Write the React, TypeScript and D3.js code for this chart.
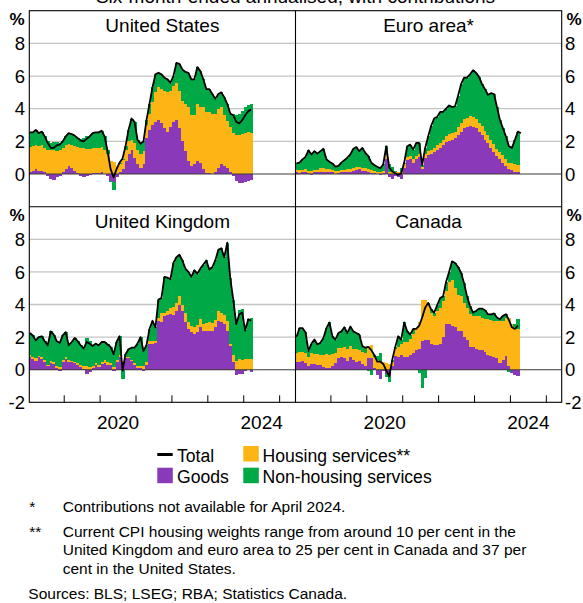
import React from 'react';
import * as d3 from 'd3';

const W = 583;
const H = 603;
const FONT = '"Liberation Sans", Arial, Helvetica, sans-serif';

// Monthly data from January 2018 (index 0) to March 2024 (index 74); euro area total to April 2024.
const usGoods = [.15,.2,.3,.2,.2,.1,-.1,-.3,-.35,-.2,-.1,.1, .3,.5,.4,.2,.05,-.1,-.2,-.15,-.05,.05,.05,.05, .1,0,-.1,-.4,-.5,-.2,.1,.3,.8,1.25,1.5,1.0, .6,.4,.6,2.2,2.7,3.0,3.2,3.3,3.1,2.8,2.6,2.9, 3.2,3.3,2.8,2.0,1.4,.8,.5,.6,.8,.7,.3,.05, .05,0,.1,.4,.6,.5,.35,.1,-.1,-.4,-.55,-.55, -.5,-.4,-.35];
const usHousing = [1.5,1.5,1.45,1.5,1.55,1.5,1.5,1.45,1.45,1.4,1.5,1.5, 1.45,1.35,1.4,1.5,1.6,1.6,1.6,1.55,1.55,1.55,1.55,1.55, 1.55,1.45,1.2,.8,.75,.5,.5,.55,.7,.8,.6,.9, .9,.8,.8,.8,1.0,1.4,1.8,2.0,2.1,2.3,2.4,2.2, 2.2,2.3,2.3,2.5,2.9,3.3,3.1,3.0,3.5,3.4,3.8,3.75, 3.75,3.7,3.6,3.6,3.5,3.1,2.9,2.8,2.5,2.4,2.4,2.45, 2.5,2.55,2.5];
const usNonHousing = [.9,.85,.95,.8,.85,.7,.5,.45,.5,.55,.4,.4, .55,.65,.65,.65,.55,.55,.6,.75,.8,.9,.95,.95, 1.0,.85,.3,-.1,-.45,0,.1,.1,.2,.65,1.3,1.3, .6,.65,.6,.3,.6,.9,1.1,.9,.9,.8,.8,.5, .6,1.2,1.65,1.9,1.95,2.1,2.2,2.2,2.25,2.2,1.7,1.4, 1.4,1.2,.9,.9,.9,1.1,1.05,.8,1.2,1.2,1.25,1.4, 1.6,1.7,1.8];
const usTotal = [2.55,2.55,2.7,2.5,2.6,2.3,1.9,1.6,1.6,1.75,1.8,2.0, 2.3,2.5,2.45,2.35,2.2,2.05,2.0,2.15,2.3,2.5,2.55,2.55, 2.65,2.3,1.4,.3,-.2,.3,.7,.95,1.7,2.7,3.4,3.2, 2.1,1.85,2.0,3.3,4.3,5.3,6.1,6.2,6.1,5.9,5.8,5.6, 6.0,6.8,6.75,6.4,6.25,6.2,5.8,5.8,6.55,6.3,5.8,5.2, 5.2,4.9,4.6,4.9,5.0,4.7,4.3,3.7,3.6,3.2,3.1,3.3, 3.6,3.85,3.95];

const euGoods = [.1,.05,.1,.1,.05,-.05,.1,.1,.15,.15,.15,.1, .1,0,.05,.1,.1,.1,.15,.2,.25,.3,.2,.2, .1,.05,.05,0,-.05,.05,.95,-.2,-.3,-.15,-.2,-.3, .4,.85,.9,.7,.9,1.05,.3,1.0,1.15,1.25,1.35,1.45, 1.6,1.8,1.95,2.05,2.1,2.2,2.4,2.6,2.8,2.9,2.95,2.9, 2.8,2.6,2.4,2.1,1.9,1.6,1.35,1.1,.9,.7,.5,.3, .25,.15,.1];
const euHousing = [.15,.2,.15,.2,.15,.2,.15,.15,.2,.2,.15,.2, .15,.2,.15,.15,.15,.2,.15,.2,.2,.15,.2,.2, .2,.2,.15,.15,.15,.15,.2,.15,.2,.15,.15,.15, .2,.2,.2,.2,.2,.2,.15,.2,.25,.25,.25,.3, .3,.3,.35,.4,.4,.4,.45,.5,.55,.55,.6,.6, .6,.55,.55,.55,.5,.5,.5,.45,.45,.45,.4,.4, .4,.45,.45];
const euNonHousing = [.4,.45,.65,.75,1.25,1.05,1.15,1.0,1.05,1.2,.6,.45, .4,.25,.3,.45,.6,.7,.9,1.15,1.2,.95,1.2,.9, .8,.45,.35,.3,.25,.4,.55,.45,.25,.05,0,.2, .1,.65,.7,.6,.8,.65,.1,.4,.9,1.45,1.8,1.75, 1.9,1.7,1.7,1.75,1.6,1.55,1.95,2.4,2.55,2.45,2.55,2.85, 2.8,2.8,2.55,2.55,2.45,2.85,3.05,2.55,1.95,1.65,1.4,1.0, .95,1.5,2.05];
const euTotal = [.65,.7,.9,1.05,1.45,1.2,1.4,1.25,1.4,1.55,.9,.75, .65,.45,.5,.7,.85,1.0,1.2,1.55,1.65,1.4,1.6,1.3, 1.1,.7,.55,.45,.35,.6,1.7,.4,.15,.05,-.05,.05, .7,1.7,1.8,1.5,1.9,1.9,.55,1.6,2.3,2.95,3.4,3.5, 3.8,3.8,4.0,4.2,4.1,4.15,4.8,5.5,5.9,5.9,6.1,6.35, 6.2,5.95,5.5,5.2,4.85,4.95,4.9,4.1,3.3,2.8,2.3,1.7, 1.6,2.1,2.6,2.5];

const ukGoods = [.75,.65,.55,.75,.65,.45,.2,.4,.35,.1,-.05,.5, .65,.5,.45,.4,.3,.15,.05,-.25,-.15,.1,.3,.15, .35,.4,.3,.3,-.1,.5,.8,.45,.7,.7,.55,.3, .1,.1,-.1,.3,1.6,1.6,1.65,3.0,2.9,3.3,3.35,3.4, 3.35,3.6,4.0,3.6,2.95,2.5,2.3,2.2,2.3,2.6,2.35,2.4, 2.4,2.4,2.6,3.0,2.9,2.8,2.4,1.45,.5,-.3,-.25,-.25, -.05,0,-.15];
const ukHousing = [.15,.15,.15,.1,.15,.15,.1,.15,.1,.15,.15,.1, .1,.1,.1,.1,.1,.15,.15,.2,.15,.15,.1,.15, .15,.2,.15,.1,.15,.1,.1,.1,.1,.1,.05,.1, .1,.15,.2,.2,.15,.15,.1,.15,.6,.2,.25,.4, .5,.5,.55,.35,.5,.4,.4,.4,.45,.5,.45,.45, .55,.45,.45,.6,.55,.55,.6,.1,.4,.55,.65,.6, .65,.65,.65];
const ukNonHousing = [1.35,1.3,1.1,1.15,1.25,1.15,1.2,1.8,1.7,1.5,1.55,1.5, 1.55,.9,1.15,1.45,1.35,1.2,1.1,1.75,1.6,1.2,1.2,1.2, 1.2,1.1,1.1,1.0,.9,1.1,1.15,-.6,.15,.45,.75,.95, 1.4,1.75,1.05,1.0,.75,1.25,.85,1.15,.9,2.2,2.05,1.75, 2.7,2.8,2.5,2.75,2.75,3.1,3.0,3.5,3.15,3.1,3.65,3.85, 3.2,3.45,3.65,3.75,4.0,3.55,4.8,4.05,3.4,2.55,3.0,3.15, 1.8,2.45,2.5];
const ukTotal = [2.25,2.1,1.8,2.0,2.05,1.75,1.5,2.35,2.15,1.75,1.65,2.1, 2.3,1.5,1.7,1.95,1.75,1.5,1.3,1.7,1.6,1.45,1.6,1.5, 1.7,1.7,1.55,1.4,.95,1.7,2.05,-.05,.95,1.25,1.35,1.35, 1.6,2.0,1.15,1.5,2.5,3.0,2.6,4.3,4.4,5.7,5.65,5.55, 6.55,6.9,7.05,6.7,6.2,6.0,5.7,6.1,5.9,6.2,6.45,6.7, 6.15,6.3,6.7,7.35,7.45,6.9,7.8,5.6,4.3,2.8,3.4,3.5, 2.4,3.1,3.0];

const caGoods = [.45,.5,.55,.4,.2,.35,.35,.3,.3,.15,.1,.1, .2,.4,.7,.75,.7,.55,.75,.6,.5,.55,.35,.2, .7,.7,.1,-.35,-.55,-.1,-.25,-.4,.2,.85,.8,.9, .8,.75,.9,1.0,1.2,1.3,1.75,1.8,1.8,1.6,1.5,1.5, 1.6,2.0,2.8,2.8,2.7,2.6,2.4,2.4,2.0,1.8,1.4,1.4, 1.3,1.2,1.2,1.1,.9,.85,.8,.7,.4,.6,.85,.2, -.2,-.3,-.4];
const caHousing = [.6,.6,.55,.6,.6,.65,.6,.65,.6,.75,.85,.8, .75,.65,.65,.6,.7,.7,.7,.7,.75,.65,.75,.8, .75,.8,.7,.6,.55,.45,.4,.35,.3,.4,.6,.7, .9,.95,1.0,1.2,1.3,1.6,2.55,2.5,2.2,1.9,1.8,2.1, 2.2,2.2,2.0,2.6,2.8,2.4,2.2,2.1,2.1,2.0,2.0,1.9, 2.0,2.1,2.0,2.0,2.2,2.2,2.2,2.3,2.6,2.4,2.3,3.0, 2.8,2.6,2.5];
const caNonHousing = [.95,1.45,1.45,1.3,.35,.6,.9,.6,.75,1.05,1.6,2.0, 1.1,.8,.9,1.0,1.2,1.0,1.2,1.05,1.0,.95,.35,.35, -.05,-.3,.1,.25,.5,0,-.2,-.35,.1,.15,.65,.25, 1.2,.65,.25,.3,0,-.2,-1.1,-.5,.1,.2,.2,.35, .6,.3,.6,.6,1.15,1.55,1.7,1.45,1.2,.7,.5,.2, .3,.45,.55,.55,.3,.35,.45,.2,.1,.3,.25,-.15, 0,.2,.6];
const caTotal = [2.0,2.55,2.55,2.3,1.15,1.6,1.85,1.55,1.65,1.95,2.55,2.9, 2.05,1.85,2.25,2.35,2.6,2.25,2.65,2.35,2.25,2.15,1.45,1.35, 1.4,1.2,.9,.5,.5,.35,-.05,-.4,.6,1.4,2.05,1.85, 2.9,2.35,2.15,2.5,2.5,2.7,3.2,3.8,4.1,3.7,3.5,3.95, 4.4,4.5,5.4,6.0,6.65,6.55,6.3,5.95,5.3,4.5,3.9,3.5, 3.6,3.75,3.75,3.65,3.4,3.4,3.45,3.2,3.1,3.3,3.4,3.05, 2.6,2.5,2.7];

const keys = ['goods', 'housing', 'nonHousing'] as const;
const seriesNames = ['Goods', 'Housing services**', 'Non-housing services'];
const colors: Record<string, string> = { goods: '#8a3ab9', housing: '#fdb515', nonHousing: '#00a846' };

const topTicks = [0, 2, 4, 6, 8];
const bottomTicks = [-2, 0, 2, 4, 6, 8];
const gridValues = [2, 4, 6, 8];
const yearTicks = [2019, 2020, 2021, 2022, 2023, 2024, 2025];
const yearLabels = [2020, 2024];

const panels = [
  { title: 'United States', col: 0, row: 0, goods: usGoods, housing: usHousing, nonHousing: usNonHousing, total: usTotal },
  { title: 'Euro area*', col: 1, row: 0, goods: euGoods, housing: euHousing, nonHousing: euNonHousing, total: euTotal },
  { title: 'United Kingdom', col: 0, row: 1, goods: ukGoods, housing: ukHousing, nonHousing: ukNonHousing, total: ukTotal },
  { title: 'Canada', col: 1, row: 1, goods: caGoods, housing: caHousing, nonHousing: caNonHousing, total: caTotal },
];

const LEFT = 29.3, MID = 295.5, RIGHT = 561.7;
const TOP = 10.7, DIV = 206.7, BOTTOM = 402.3;
const cols = [
  { r0: 28.3, r1: 295.8, clipL: LEFT, clipR: MID },
  { r0: 295, r1: 562.5, clipL: MID, clipR: RIGHT },
];
const rows = [
  { top: TOP, bottom: DIV },
  { top: DIV, bottom: BOTTOM },
];
const DOMAIN_END = 2025.45;

function xScaleFor(col: number) {
  return d3.scaleLinear().domain([2018, DOMAIN_END]).range([cols[col].r0, cols[col].r1]);
}
function yScaleFor(row: number) {
  return d3.scaleLinear().domain([-2, 10]).range([rows[row].bottom, rows[row].top]);
}
const dateOf = (i: number) => 2018 + i / 12;

function Panel({ p, idx }: { p: any; idx: number }) {
  const x = xScaleFor(p.col);
  const y = yScaleFor(p.row);
  const c = cols[p.col];
  const r = rows[p.row];
  const n = p.goods.length;
  const table = d3.range(n).map((i) => ({ i, goods: p.goods[i], housing: p.housing[i], nonHousing: p.nonHousing[i] }));
  const layers = d3.stack<any>().keys(keys as any).offset(d3.stackOffsetDiverging)(table);
  const line = d3.line<number>().x((_, i) => x(dateOf(i + 0.5))).y((v) => y(v));
  const clipId = `clip${idx}`;
  return (
    <g>
      <defs>
        <clipPath id={clipId}>
          <rect x={c.clipL} y={r.top} width={c.clipR - c.clipL} height={r.bottom - r.top} />
        </clipPath>
      </defs>
      {gridValues.map((v) => (
        <line key={v} x1={c.clipL} x2={c.clipR} y1={y(v)} y2={y(v)} stroke="#c4c4c4" strokeWidth={1.3} />
      ))}
      <g clipPath={`url(#${clipId})`}>
        {layers.map((layer) => (
          <g key={layer.key} fill={colors[layer.key]} shapeRendering="crispEdges">
            {layer.map((d, i) => {
              const x0 = x(dateOf(i));
              const x1 = x(dateOf(i + 1));
              const h = y(d[0]) - y(d[1]);
              if (!(h > 0)) return null;
              return <rect key={i} x={x0} y={y(d[1])} width={x1 - x0 + 0.5} height={h} />;
            })}
          </g>
        ))}
        <line x1={c.clipL} x2={c.clipR} y1={y(0)} y2={y(0)} stroke="#3a3a3a" strokeWidth={1.1} />
        <path d={line(p.total) || ''} fill="none" stroke="#000" strokeWidth={1.8} strokeLinejoin="round" />
      </g>
      <text x={(c.clipL + c.clipR) / 2} y={p.row === 0 ? 31.5 : 228} textAnchor="middle" fontSize={19} fontFamily={FONT} fill="#000">
        {p.title}
      </text>
      {p.row === 1 &&
        yearTicks.map((t) => (
          <line key={t} x1={x(t)} x2={x(t)} y1={BOTTOM} y2={BOTTOM - 7} stroke="#000" strokeWidth={1} />
        ))}
      {p.row === 1 &&
        yearLabels.map((t) => (
          <text key={t} x={x(t + 0.5)} y={429.3} textAnchor="middle" fontSize={19} fontFamily={FONT} fill="#000">
            {t}
          </text>
        ))}
      {(p.row === 0 ? topTicks : bottomTicks).map((v) => (
        <text
          key={v}
          x={p.col === 0 ? 25 : 565}
          y={y(v)}
          dy="0.36em"
          textAnchor={p.col === 0 ? 'end' : 'start'}
          fontSize={18.5}
          fontFamily={FONT}
          fill="#000"
        >
          {v}
        </text>
      ))}
      <text
        x={p.col === 0 ? 24.5 : 566.5}
        y={p.row === 0 ? 25 : 221}
        textAnchor={p.col === 0 ? 'end' : 'start'}
        fontSize={17}
        fontWeight="bold"
        fontFamily={FONT}
        fill="#000"
      >
        %
      </text>
    </g>
  );
}

export default function App() {
  const legendText = { fontSize: 17.6, fontFamily: FONT, fill: '#000' } as const;
  const noteText = { fontSize: 15.5, fontFamily: FONT, fill: '#000' } as const;
  return (
    <div style={{ position: 'absolute', left: 0, top: 0 }}>
      <svg width={W} height={H} style={{ display: 'block', background: '#fff' }}>
        <rect x={0} y={0} width={W} height={H} fill="#fff" />
        <text x={MID} y={3} textAnchor="middle" fontSize={19} fontFamily={FONT} fill="#000">
          Six-month-ended annualised, with contributions
        </text>
        {panels.map((p, i) => (
          <Panel key={p.title} p={p} idx={i} />
        ))}
        <rect x={LEFT} y={TOP} width={RIGHT - LEFT} height={BOTTOM - TOP} fill="none" stroke="#000" strokeWidth={1.1} />
        <line x1={MID} x2={MID} y1={TOP} y2={BOTTOM} stroke="#000" strokeWidth={1.1} />
        <line x1={LEFT} x2={RIGHT} y1={DIV} y2={DIV} stroke="#000" strokeWidth={1.1} />

        {/* Legend */}
        <line x1={157.3} x2={172.7} y1={454.5} y2={454.5} stroke="#000" strokeWidth={3} />
        <text x={177} y={461.5} {...legendText}>Total</text>
        <rect x={243.3} y={446} width={15.5} height={15.5} fill={colors.housing} />
        <text x={262.5} y={461.5} {...legendText}>{seriesNames[1]}</text>
        <rect x={157.3} y={467.7} width={15.5} height={15.5} fill={colors.goods} />
        <text x={177} y={483.2} {...legendText}>{seriesNames[0]}</text>
        <rect x={243.3} y={467.7} width={15.5} height={15.5} fill={colors.nonHousing} />
        <text x={262.5} y={483.2} {...legendText}>{seriesNames[2]}</text>

        {/* Notes */}
        <text x={29.3} y={512} {...noteText}>*</text>
        <text x={62.7} y={512} {...noteText}>Contributions not available for April 2024.</text>
        <text x={29.3} y={536.5} {...noteText}>**</text>
        <text x={62.7} y={536.5} {...noteText}>Current CPI housing weights range from around 10 per cent in the</text>
        <text x={62.7} y={555.3} {...noteText}>United Kingdom and euro area to 25 per cent in Canada and 37 per</text>
        <text x={62.7} y={574} {...noteText}>cent in the United States.</text>
        <text x={28.3} y={598.8} {...noteText}>Sources: BLS; LSEG; RBA; Statistics Canada.</text>
      </svg>
    </div>
  );
}
